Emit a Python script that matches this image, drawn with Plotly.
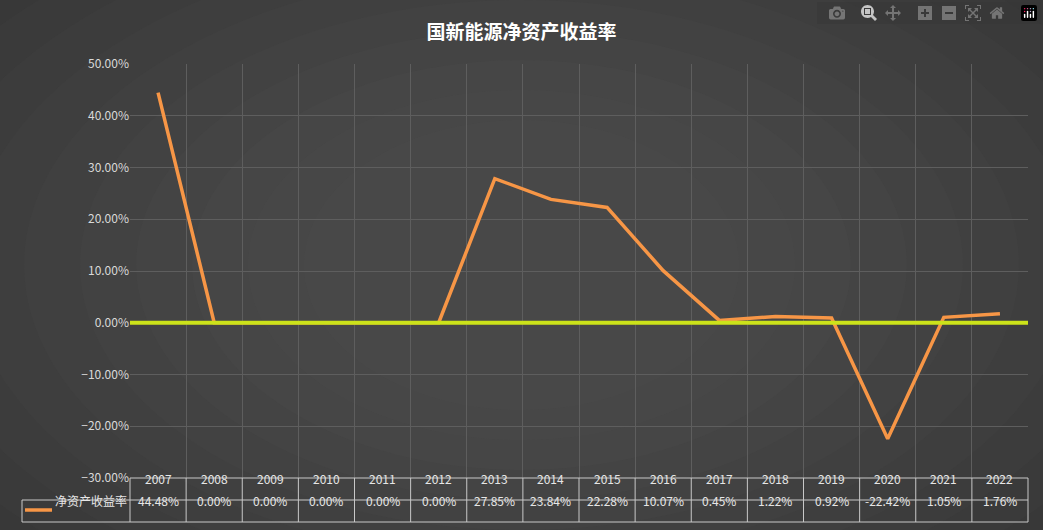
import plotly.graph_objects as go

years = ["2007","2008","2009","2010","2011","2012","2013","2014","2015","2016","2017","2018","2019","2020","2021","2022"]
roe = [44.48,0.00,0.00,0.00,0.00,0.00,27.85,23.84,22.28,10.07,0.45,1.22,0.92,-22.42,1.05,1.76]
series_name = "净资产收益率"
title = "国新能源净资产收益率"

W, H = 1043, 530
L, R, T, B = 130, 15, 64, 52
ph = H - T - B
pw = W - L - R
def py(px): return (H - B - px) / ph  # pixel y -> paper y
def pxx(px): return (px - L) / pw

n = len(years)
xs = list(range(n))
fig = go.Figure()
fig.add_trace(go.Scatter(x=xs, y=[v/100 for v in roe], mode="lines",
                         line=dict(color="#f79646", width=3.5), showlegend=False, hoverinfo="skip"))

shapes = []
# soft vignette background
steps = 10
for i in range(steps):
    k = i / steps
    shapes.append(dict(type="circle", xref="paper", yref="paper", layer="below",
                       x0=pxx(-200 + 560 * k), x1=pxx(W + 200 - 560 * k),
                       y0=py(H + 150 - 300 * k), y1=py(-150 + 300 * k),
                       fillcolor="rgba(105,105,105,0.06)", line=dict(width=0)))
# zero line
shapes.append(dict(type="line", xref="paper", yref="y", x0=0, x1=1, y0=0, y1=0,
                   line=dict(color="#cce31a", width=4)))
# table lines
lc = "#c8c8c8"
for yy in [478, 500, 522]:
    x0 = 22 if yy != 478 else L
    shapes.append(dict(type="line", xref="paper", yref="paper", x0=pxx(x0), x1=1, y0=py(yy), y1=py(yy), line=dict(color=lc, width=1)))
for i in range(n + 1):
    xp = L + pw * i / n
    shapes.append(dict(type="line", xref="paper", yref="paper", x0=pxx(xp), x1=pxx(xp), y0=py(478), y1=py(522), line=dict(color=lc, width=1)))
shapes.append(dict(type="line", xref="paper", yref="paper", x0=pxx(22), x1=pxx(22), y0=py(500), y1=py(522), line=dict(color=lc, width=1)))
shapes.append(dict(type="line", xref="paper", yref="paper", x0=pxx(25), x1=pxx(52), y0=py(510), y1=py(510), line=dict(color="#f79646", width=3.5)))

ann = []
fnt = dict(color="#e6e6e6", size=12, family="Noto Sans CJK SC")
for i in range(n):
    ann.append(dict(x=i, xref="x", y=py(489), yref="paper", text=years[i], showarrow=False, font=fnt))
    ann.append(dict(x=i, xref="x", y=py(511), yref="paper", text="%.2f%%" % roe[i], showarrow=False, font=fnt))
ann.append(dict(x=pxx(53), xref="paper", y=py(511), yref="paper", text=series_name, showarrow=False, xanchor="left", font=fnt))

fig.update_layout(
    width=W, height=H, margin=dict(l=L, r=R, t=T, b=B),
    paper_bgcolor="#363636", plot_bgcolor="rgba(0,0,0,0)",
    title=dict(text="<b>" + title + "</b>", x=0.5, y=1 - 32/H, xanchor="center", yanchor="middle",
               font=dict(color="white", size=19, family="Noto Sans CJK SC")),
    xaxis=dict(range=[-0.5, n - 0.5], tickvals=[i - 0.5 for i in range(n + 1)], showticklabels=False,
               showgrid=True, gridcolor="#5e5e5e", gridwidth=1, zeroline=False, ticks=""),
    yaxis=dict(range=[-0.30, 0.50], dtick=0.10, tickformat=".2%", showgrid=True, gridcolor="#5e5e5e",
               zeroline=False, tickfont=dict(color="#d9d9d9", size=12, family="Noto Sans CJK SC"), ticks=""),
    shapes=shapes, annotations=ann,
)
fig.write_html("out.html", post_script="document.body.style.margin='0';document.body.style.background='#363636';")
